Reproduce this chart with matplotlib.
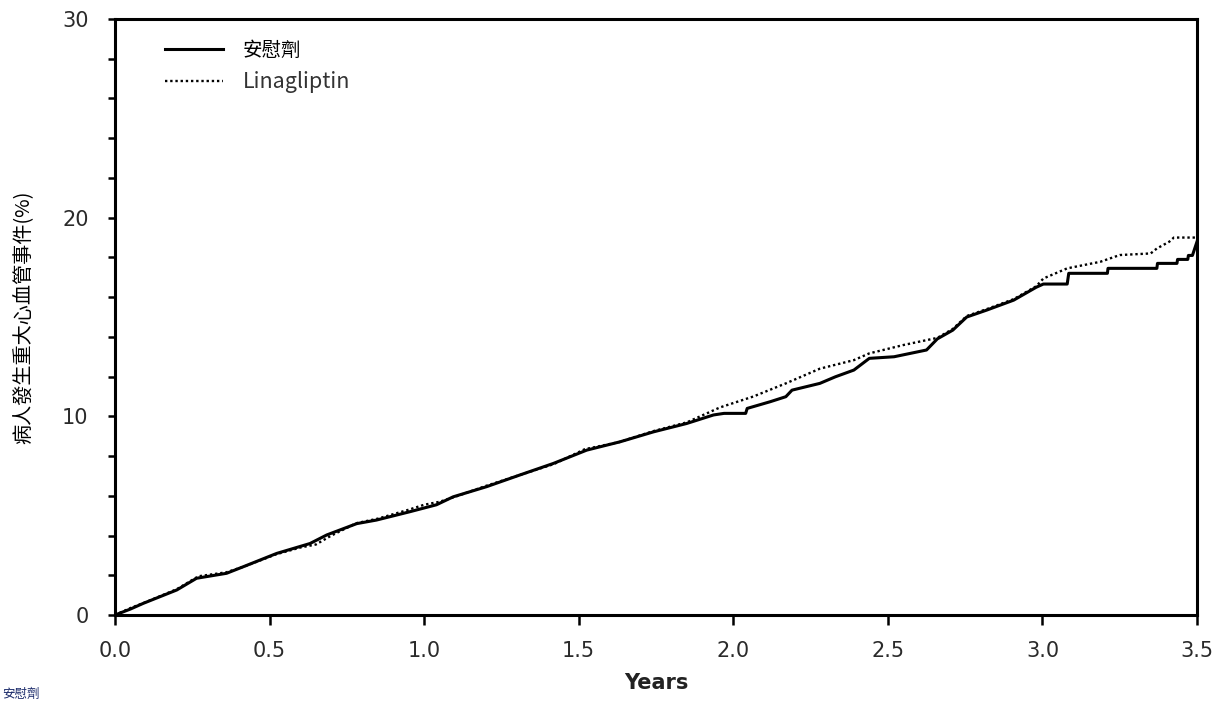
import matplotlib
matplotlib.use('Agg')
import matplotlib.pyplot as plt
from matplotlib.ticker import MultipleLocator

# Data (years, % with event)
placebo_x = [0.0, 0.05, 0.092, 0.2, 0.264, 0.361, 0.415, 0.523, 0.631, 0.685, 0.782, 0.846,
             0.954, 1.04, 1.094, 1.202, 1.31, 1.418, 1.526, 1.634, 1.742, 1.849, 1.936, 1.97,
             2.04, 2.045, 2.12, 2.17, 2.19, 2.28, 2.33, 2.39, 2.44, 2.52, 2.625, 2.66, 2.71,
             2.755, 2.82, 2.907, 2.98, 3.003, 3.08, 3.085, 3.21, 3.212, 3.37, 3.372, 3.435,
             3.437, 3.47, 3.472, 3.485, 3.5]
placebo_y = [0.0, 0.3, 0.59, 1.26, 1.85, 2.1, 2.43, 3.1, 3.6, 4.03, 4.6, 4.78,
             5.2, 5.55, 5.95, 6.46, 7.05, 7.63, 8.3, 8.72, 9.22, 9.64, 10.07, 10.15,
             10.15, 10.4, 10.74, 10.99, 11.32, 11.66, 11.99, 12.33, 12.92, 13.0, 13.34, 13.9, 14.34,
             15.0, 15.35, 15.85, 16.5, 16.66, 16.66, 17.2, 17.2, 17.45, 17.45, 17.7, 17.7,
             17.9, 17.9, 18.1, 18.1, 18.8]

lina_x = [0.0, 0.05, 0.1, 0.2, 0.27, 0.36, 0.42, 0.52, 0.6, 0.65, 0.7, 0.78, 0.85, 0.95,
          1.0, 1.05, 1.1, 1.2, 1.3, 1.42, 1.52, 1.63, 1.74, 1.85, 1.957, 2.065, 2.17, 2.28,
          2.39, 2.44, 2.55, 2.626, 2.66, 2.71, 2.755, 2.82, 2.907, 2.98, 3.003, 3.08, 3.187,
          3.25, 3.35, 3.37, 3.41, 3.425, 3.5]
lina_y = [0.0, 0.35, 0.65, 1.3, 1.95, 2.15, 2.45, 3.05, 3.4, 3.55, 4.0, 4.62, 4.85, 5.3,
          5.55, 5.7, 5.95, 6.5, 7.0, 7.6, 8.35, 8.7, 9.25, 9.7, 10.45, 11.0, 11.66, 12.4,
          12.83, 13.17, 13.59, 13.84, 13.95, 14.4, 15.05, 15.4, 15.9, 16.55, 16.94, 17.45, 17.78,
          18.12, 18.2, 18.45, 18.79, 19.0, 19.0]

x_ticks = [0.0, 0.5, 1.0, 1.5, 2.0, 2.5, 3.0, 3.5]
y_ticks = [0, 10, 20, 30]

cjk = ['Noto Sans CJK TC', 'DejaVu Sans']

fig = plt.figure(figsize=(12.28, 7.02), dpi=100)
ax = fig.add_axes([0.0936, 0.1239, 0.8812, 0.849])

ax.plot(placebo_x, placebo_y, color='black', lw=2.2, label='安慰劑')
ax.plot(lina_x, lina_y, color='black', lw=1.7, linestyle=(0, (1, 1.2)), label='Linagliptin')

ax.set_xlim(0, 3.5)
ax.set_ylim(0, 30)
ax.set_xticks(x_ticks)
ax.set_xticklabels(['%.1f' % v for v in x_ticks])
ax.set_yticks(y_ticks)
ax.yaxis.set_minor_locator(MultipleLocator(2))

for s in ax.spines.values():
    s.set_linewidth(2.2)

ax.tick_params(axis='x', direction='out', length=7, width=1.8, pad=12,
               labelsize=15, labelcolor='#2a2a2a')
ax.tick_params(axis='y', which='major', direction='out', length=5, width=1.8, pad=14,
               labelsize=15, labelcolor='#2a2a2a')
ax.tick_params(axis='y', which='minor', direction='out', length=5, width=1.8)
for lab in ax.get_xticklabels() + ax.get_yticklabels():
    lab.set_family('DejaVu Sans')

ax.set_xlabel('Years', fontsize=15, fontweight='bold', family='DejaVu Sans',
              color='#222222', labelpad=8)
ax.set_ylabel('病人發生重大心血管事件(%)', fontsize=14.5, family=cjk, labelpad=20)

leg = ax.legend(loc='upper left', bbox_to_anchor=(0.03, 0.995), frameon=False,
                handlelength=3.0, handletextpad=1.0, labelspacing=0.55,
                prop={'family': cjk, 'size': 14})
leg.get_texts()[1].set_color('#333333')
leg.get_texts()[1].set_fontsize(15.5)

# caption fragment at the bottom-left edge
fig.text(0.002, 0.002, '安慰劑', fontsize=9, family=cjk, color='#1a2a6a',
         ha='left', va='bottom')

fig.savefig('out.png', dpi=100)
